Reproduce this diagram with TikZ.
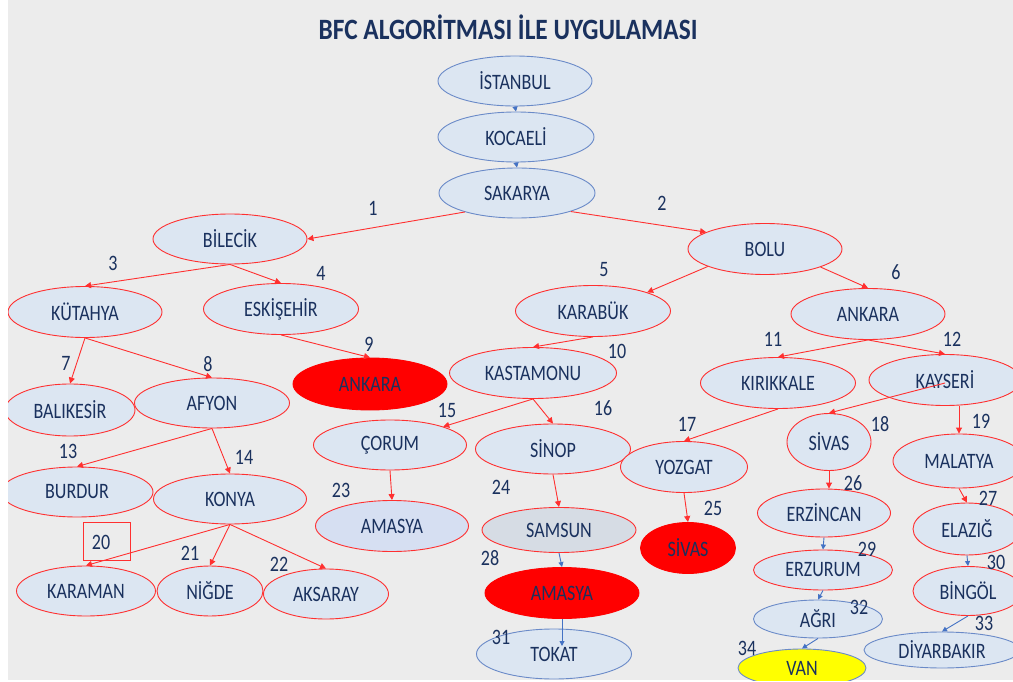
\documentclass[tikz,border=0pt]{standalone}
\usepackage{fontspec}
\setmainfont{Carlito}[FakeStretch=0.82]
\newfontfamily\titlefont{Carlito}[FakeStretch=0.86]
\usetikzlibrary{shapes.geometric,arrows.meta}
\definecolor{bg}{HTML}{ECECEC}
\definecolor{lb}{HTML}{DCE6F2}
\definecolor{lb2}{HTML}{D6DFF2}
\definecolor{grayfill}{HTML}{D6DCE4}
\definecolor{navy}{HTML}{1A315E}
\definecolor{redl}{HTML}{FF3030}
\definecolor{bluel}{HTML}{6A8AC8}
\definecolor{bluea}{HTML}{4472C4}
\definecolor{vred}{HTML}{FF0000}
\definecolor{vyel}{HTML}{FFFF00}
\tikzset{
  city/.style={ellipse, draw=redl, line width=0.9pt, fill=lb, text=navy, inner sep=0pt,
    font=\fontsize{22}{26}\selectfont},
  bcity/.style={city, draw=bluel},
  sz/.style n args={2}{minimum width=#1pt, minimum height=#2pt},
  rarr/.style={draw=redl, line width=0.9pt, -{Triangle[length=6pt,width=6pt]}},
  barr/.style={draw=bluea, line width=0.9pt, -{Triangle[length=5pt,width=5pt]}},
  num/.style={text=navy, inner sep=0pt, font=\fontsize{22}{26}\selectfont}
}
\begin{document}
\begin{tikzpicture}[x=1pt,y=-1pt]
\useasboundingbox (0,0) rectangle (1013,682);
\fill[white] (0,0) rectangle (1013,682);
\fill[bg] (8,0) rectangle (1013,680);
\begin{scope}
\clip (8,0) rectangle (1013,680);
\node[text=navy, font=\titlefont\bfseries\fontsize{29.5}{32}\selectfont, inner sep=0pt] (title) at (508,27) {BFC ALGORİTMASI İLE UYGULAMASI};

% nodes
\node[bcity, sz={154}{50}] (istanbul) at (515,81) {İSTANBUL};
\node[bcity, sz={156}{50}] (kocaeli) at (516,137) {KOCAELİ};
\node[bcity, sz={156}{50}] (sakarya) at (517,193) {SAKARYA};
\node[city, sz={154}{50}] (bilecik) at (230,239) {BİLECİK};
\node[city, sz={154}{51}] (bolu) at (765,249) {BOLU};
\node[city, sz={154}{51}] (kutahya) at (85,312) {KÜTAHYA};
\node[city, sz={155}{51}] (eskisehir) at (281,309) {ESKİŞEHİR};
\node[city, sz={155}{51}] (karabuk) at (593,311) {KARABÜK};
\node[city, sz={154}{51}] (ankara) at (868,314) {ANKARA};
\node[city, sz={154}{52}, fill=vred, draw=vred] (ankarar) at (370,384) {ANKARA};
\node[city, sz={167}{51}] (kastamonu) at (533,373) {KASTAMONU};
\node[city, sz={155}{51}] (kirikkale) at (778,383) {KIRIKKALE};
\node[city, sz={152}{51}] (kayseri) at (945,380) {KAYSERİ};
\node[city, sz={130}{52}] (balikesir) at (70,410) {BALIKESİR};
\node[city, sz={155}{50}] (afyon) at (212,403) {AFYON};
\node[city, sz={153}{50}] (corum) at (390,445) {ÇORUM};
\node[city, sz={155}{50}] (sinop) at (553,449) {SİNOP};
\node[city, sz={127}{51}] (yozgat) at (684,467) {YOZGAT};
\node[city, sz={84}{57}] (sivas) at (829,442) {SİVAS};
\node[city, sz={132}{54}] (malatya) at (959,461) {MALATYA};
\node[city, sz={152}{50}] (burdur) at (77,492) {BURDUR};
\node[city, sz={153}{50}] (konya) at (230,499) {KONYA};
\node[city, sz={153}{51}, fill=lb2] (amasya) at (392,526) {AMASYA};
\node[city, sz={154}{45}, fill=grayfill] (samsun) at (559,530) {SAMSUN};
\node[city, sz={95}{51}, fill=vred, draw=vred] (sivasr) at (688,548) {SİVAS};
\node[city, sz={133}{48}] (erzincan) at (824,513) {ERZİNCAN};
\node[city, sz={108}{52}] (elazig) at (967,529) {ELAZIĞ};
\node[city, sz={139}{50}] (karaman) at (86,591) {KARAMAN};
\node[city, sz={106}{50}] (nigde) at (210,591) {NİĞDE};
\node[city, sz={125}{50}] (aksaray) at (326,594) {AKSARAY};
\node[city, sz={154}{51}, fill=vred, draw=vred] (amasyar) at (562,593) {AMASYA};
\node[city, sz={139}{40}] (erzurum) at (823,570) {ERZURUM};
\node[city, sz={110}{49}] (bingol) at (968,591) {BİNGÖL};
\node[bcity, sz={129}{38}] (agri) at (818,619) {AĞRI};
\node[bcity, sz={156}{36}] (diyarbakir) at (942,650) {DİYARBAKIR};
\node[bcity, sz={155}{50}] (tokat) at (554,654) {TOKAT};
\node[bcity, sz={128}{38}, fill=vyel] (van) at (802,668) {VAN};

% connectors
\draw[barr] (istanbul.south) -- (kocaeli.north);
\draw[barr] (kocaeli.south) -- (sakarya.north);
\draw[rarr] (sakarya.200) -- (bilecik.east);
\draw[rarr] (sakarya.341) -- (bolu.164);
\draw[rarr] (bilecik.south) -- (kutahya.north);
\draw[rarr] (bilecik.south) -- (eskisehir.north);
\draw[rarr] (bolu.197) -- (karabuk.19);
\draw[rarr] (bolu.342) -- (ankara.north);
\draw[rarr] (kutahya.south) -- (balikesir.north);
\draw[rarr] (kutahya.south) -- (afyon.north);
\draw[rarr] (eskisehir.south) -- (ankarar.north);
\draw[rarr] (karabuk.south) -- (kastamonu.north);
\draw[rarr] (ankara.south) -- (kirikkale.north);
\draw[rarr] (ankara.south) -- (kayseri.north);
\draw[rarr] (afyon.south) -- (burdur.north);
\draw[rarr] (afyon.south) -- (konya.north);
\draw[rarr] (kastamonu.south) -- (corum.19);
\draw[rarr] (kastamonu.south) -- (sinop.north);
\draw[rarr] (kirikkale.south) -- (yozgat.north);
\draw[rarr] ([yshift=-3pt]kayseri.center) -- (sivas.north);
\draw[rarr] (malatya.north |- kayseri.south) -- (malatya.north);
\draw[rarr] (konya.south) -- (karaman.north);
\draw[rarr] (konya.south) -- (nigde.north);
\draw[rarr] (konya.south) -- (aksaray.north);
\draw[rarr] (corum.south) -- (amasya.north);
\draw[rarr] (sinop.south) -- (samsun.north);
\draw[rarr] (yozgat.south) -- (sivasr.north);
\draw[rarr] (sivas.south) -- (sivas.south |- erzincan.north);
\draw[rarr] (malatya.south) -- (elazig.north);
\draw[barr] (samsun.south) -- (amasyar.north);
\draw[barr] (erzincan.south) -- (erzurum.north);
\draw[barr] (elazig.south) -- (bingol.north);
\draw[barr, shorten >=8pt] (amasyar.south) -- (amasyar.south |- tokat.center);
\draw[barr] (erzurum.south) -- (agri.north);
\draw[barr] (bingol.south) -- (diyarbakir.north);
\draw[barr] (agri.south) -- (van.north);

% step numbers
\node[num] (n1) at (373,208) {1};
\node[num] (n2) at (662,203) {2};
\node[num] (n3) at (113,263) {3};
\node[num] (n4) at (321,273) {4};
\node[num] (n5) at (604,270) {5};
\node[num] (n6) at (896,272) {6};
\node[num] (n7) at (66,363) {7};
\node[num] (n8) at (208,364) {8};
\node[num] (n9) at (369,344) {9};
\node[num] (n10) at (617,351) {10};
\node[num] (n11) at (773,339) {11};
\node[num] (n12) at (952,339) {12};
\node[num] (n13) at (68,451) {13};
\node[num] (n14) at (244,457) {14};
\node[num] (n15) at (447,410) {15};
\node[num] (n16) at (603,408) {16};
\node[num] (n17) at (687,424) {17};
\node[num] (n18) at (880,424) {18};
\node[num] (n19) at (981,421) {19};
\node[draw=redl, line width=0.8pt, minimum width=47pt, minimum height=38pt, inner sep=0pt] (box20) at (106.5,541) {};
\node[num] (n20) at (101,542) {20};
\node[num] (n21) at (190,553) {21};
\node[num] (n22) at (279,564) {22};
\node[num] (n23) at (341,490) {23};
\node[num] (n24) at (501,487) {24};
\node[num] (n25) at (713,508) {25};
\node[num] (n26) at (853,483) {26};
\node[num] (n27) at (988,498) {27};
\node[num] (n28) at (490,558) {28};
\node[num] (n29) at (867,549) {29};
\node[num] (n30) at (996,562) {30};
\node[num] (n31) at (501,637) {31};
\node[num] (n32) at (859,607) {32};
\node[num] (n33) at (984,623) {33};
\node[num] (n34) at (747,648) {34};
\end{scope}
\end{tikzpicture}
\end{document}
